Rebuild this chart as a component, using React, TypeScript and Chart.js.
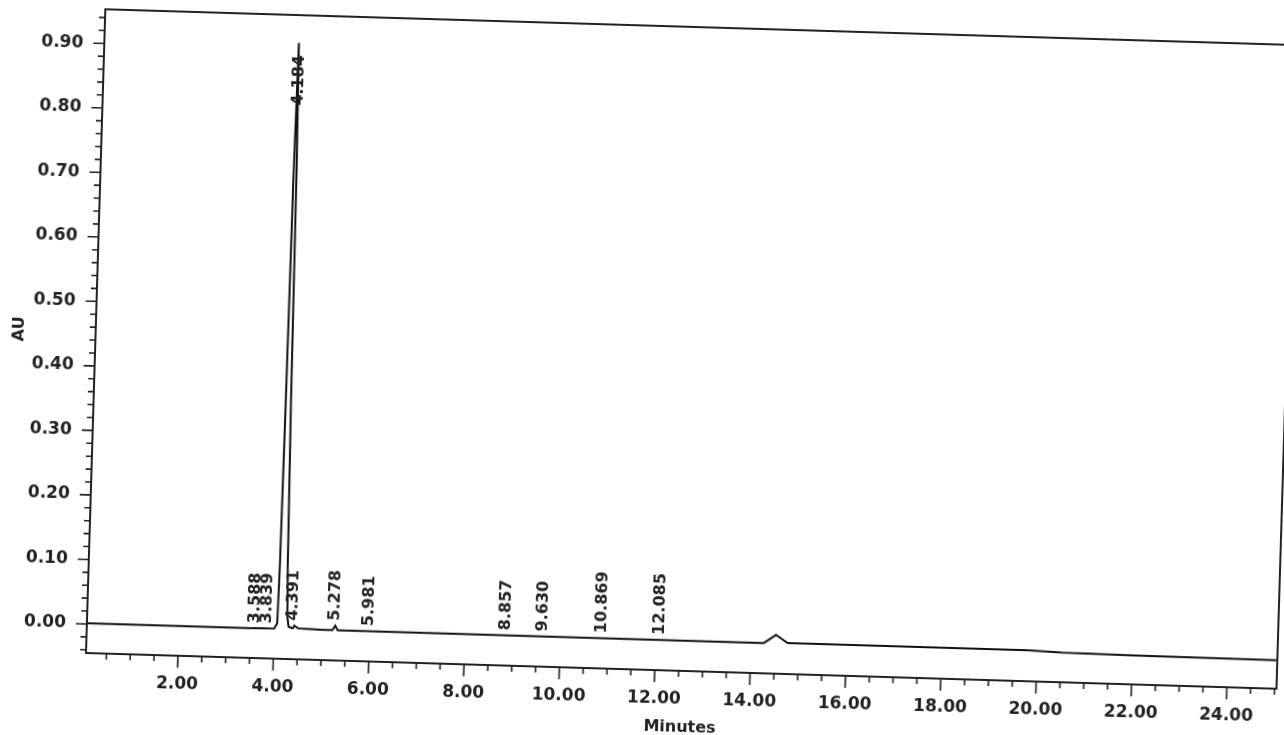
import { useEffect, useRef } from "react";
import { Chart, registerables } from "chart.js";

Chart.register(...registerables);

// Chromatogram trace (minutes, AU)
const retentionTimes = [
  0.072, 1.0, 2.0, 3.0, 3.5, 4.0, 4.06, 4.08, 4.1, 4.12, 4.15, 4.18, 4.21, 4.245, 4.27,
  4.3, 4.37, 4.391, 4.42, 4.5, 5.0, 5.22, 5.278, 5.33, 5.6, 6.0, 8.0, 10.0, 12.0, 14.0, 14.27,
  14.52, 14.77, 15.5, 18.0, 19.8, 20.5, 22.0, 25.04,
];
const absorbance = [
  0.001, 0.001, 0.001, 0.001, 0.001, 0.002, 0.01, 0.1, 0.35, 0.7, 0.91, 0.72, 0.35, 0.1, 0.02,
  0.005, 0.003, 0.003, 0.007, 0.003, 0.002, 0.002, 0.009, 0.002, 0.002, 0.002, 0.002, 0.002, 0.002, 0.002, 0.002,
  0.015, 0.003, 0.003, 0.003, 0.003, 0.001, 0.0, -0.001,
];

// Peak annotations
const peakTimes = [3.588, 3.839, 4.184, 4.391, 5.278, 5.981, 8.857, 9.63, 10.869, 12.085];
const peakLabels = ["3.588", "3.839", "4.184", "4.391", "5.278", "5.981", "8.857", "9.630", "10.869", "12.085"];

// Axes
const xRange = [0.072, 25.04];
const yRange = [-0.045, 0.953];
const xMajorStep = 2;
const xMinorStep = 0.5;
const yMajorStep = 0.1;
const yMinorStep = 0.02;
const xTitle = "Minutes";
const yTitle = "AU";

const FONT = '"DejaVu Sans", "Liberation Sans", sans-serif';
const INK = "#222";

function valueAt(t: number): number {
  for (let i = 0; i < retentionTimes.length - 1; i++) {
    const a = retentionTimes[i];
    const b = retentionTimes[i + 1];
    if (t >= a && t <= b) {
      const f = (t - a) / (b - a);
      return absorbance[i] + f * (absorbance[i + 1] - absorbance[i]);
    }
  }
  return 0;
}

// local apex height near a retention time
function apexNear(t: number): number {
  let m = valueAt(t);
  retentionTimes.forEach((rt, i) => {
    if (Math.abs(rt - t) <= 0.05) m = Math.max(m, absorbance[i]);
  });
  return m;
}

const decorPlugin = {
  id: "chromDecor",
  afterDraw(chart: any) {
    const { ctx, chartArea: a, scales } = chart;
    const x = scales.x;
    const y = scales.y;
    ctx.save();
    ctx.strokeStyle = INK;
    ctx.lineWidth = 2;
    ctx.strokeRect(a.left, a.top, a.right - a.left, a.bottom - a.top);

    ctx.lineWidth = 1.6;
    ctx.beginPath();
    const yMajorEvery = Math.round(yMajorStep / yMinorStep);
    for (let i = Math.ceil(yRange[0] / yMinorStep - 1e-9); i * yMinorStep <= yRange[1] + 1e-9; i++) {
      const py = y.getPixelForValue(i * yMinorStep);
      const len = i % yMajorEvery === 0 ? 11 : 6;
      ctx.moveTo(a.left, py);
      ctx.lineTo(a.left - len, py);
    }
    const xMajorEvery = Math.round(xMajorStep / xMinorStep);
    for (let i = Math.ceil(xRange[0] / xMinorStep - 1e-9); i * xMinorStep <= xRange[1] + 1e-9; i++) {
      const px = x.getPixelForValue(i * xMinorStep);
      const len = i % xMajorEvery === 0 ? 12 : 6;
      ctx.moveTo(px, a.bottom);
      ctx.lineTo(px, a.bottom + len);
    }
    ctx.stroke();

    ctx.font = `bold 16px ${FONT}`;
    ctx.fillStyle = INK;
    ctx.textAlign = "left";
    ctx.textBaseline = "middle";
    peakTimes.forEach((t, i) => {
      const label = peakLabels[i];
      const px = x.getPixelForValue(t);
      const len = ctx.measureText(label).width;
      let start = y.getPixelForValue(apexNear(t)) - 5;
      if (start - len < a.top + 40) start = a.top + 40 + len;
      ctx.save();
      ctx.translate(px, start);
      ctx.rotate(-Math.PI / 2);
      ctx.fillText(label, 0, 0);
      ctx.restore();
    });
    ctx.restore();
  },
};

export default function App() {
  const ref = useRef<HTMLCanvasElement | null>(null);

  useEffect(() => {
    document.body.style.overflow = "hidden";
    const canvas = ref.current;
    if (!canvas) return;
    const points = retentionTimes.map((t, i) => ({ x: t, y: absorbance[i] }));
    const chart = new Chart(canvas, {
      type: "line",
      data: {
        datasets: [
          {
            data: points,
            borderColor: "#111",
            borderWidth: 2,
            pointRadius: 0,
            tension: 0,
            fill: false,
          },
        ],
      },
      options: {
        animation: false,
        responsive: false,
        devicePixelRatio: 1,
        layout: { padding: { left: 0, top: 9, right: 7, bottom: 0 } },
        plugins: { legend: { display: false }, tooltip: { enabled: false } },
        scales: {
          x: {
            type: "linear",
            min: xRange[0],
            max: xRange[1],
            grid: { display: false },
            border: { display: false },
            ticks: {
              stepSize: xMajorStep,
              includeBounds: false,
              autoSkip: false,
              maxRotation: 0,
              padding: 10,
              color: INK,
              font: { family: FONT, size: 17, weight: "bold" },
              callback: (v: any) => Number(v).toFixed(2),
            },
            title: {
              display: true,
              text: xTitle,
              color: INK,
              font: { family: FONT, size: 16, weight: "bold" },
              padding: { top: 0, bottom: 16 },
            },
            afterFit: (s: any) => {
              s.height = 82;
              s.paddingLeft = 0;
              s.paddingRight = 0;
            },
          },
          y: {
            type: "linear",
            min: yRange[0],
            max: yRange[1],
            grid: { display: false },
            border: { display: false },
            ticks: {
              stepSize: yMajorStep,
              includeBounds: false,
              autoSkip: false,
              padding: 13,
              color: INK,
              font: { family: FONT, size: 17, weight: "bold" },
              callback: (v: any) => Number(v).toFixed(2),
            },
            title: {
              display: true,
              text: yTitle,
              color: INK,
              font: { family: FONT, size: 16, weight: "bold" },
              padding: { top: 0, bottom: 0 },
            },
            afterFit: (s: any) => {
              s.width = 86;
              s.paddingTop = 0;
              s.paddingBottom = 0;
            },
          },
        },
      },
      plugins: [decorPlugin],
    });
    return () => chart.destroy();
  }, []);

  return (
    <canvas
      ref={ref}
      width={1284}
      height={735}
      style={{
        position: "fixed",
        left: 0,
        top: 0,
        width: 1284,
        height: 735,
        background: "#fff",
        transform: "rotate(1.72deg)",
        transformOrigin: "86px 653px",
      }}
    />
  );
}
